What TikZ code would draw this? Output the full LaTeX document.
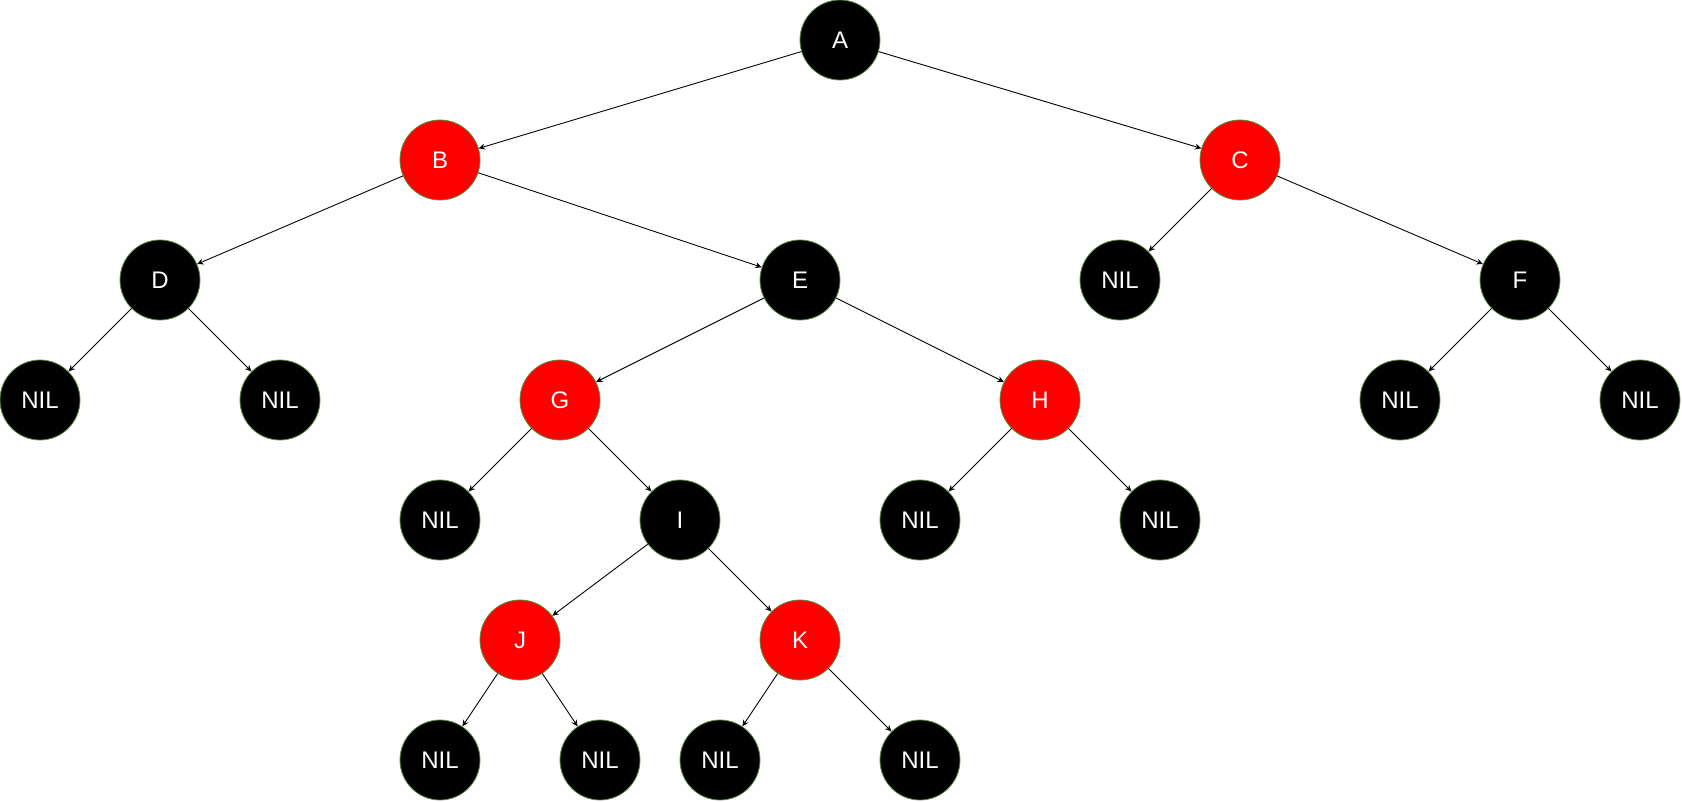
\documentclass[tikz,border=0pt]{standalone}
\usepackage{fontspec}
\setmainfont{Liberation Sans}
\usepackage{xcolor}
\usetikzlibrary{arrows.meta}
\definecolor{cRed}  {HTML}{FF0000}
\definecolor{cBlack}{HTML}{000000}
\definecolor{cRim}  {HTML}{5E8A3C}
\tikzset{
  >={Stealth[length=3.2pt,width=3pt]},
  rb/.style={circle,draw=cRim,line width=0.4pt,minimum size=40pt,inner sep=0pt,
             font=\fontsize{12}{14}\selectfont,text=white},
  bn/.style={rb,fill=cBlack},
  rn/.style={rb,fill=cRed},
  ed/.style={->,line width=0.45pt,black},
}
\begin{document}
\begin{tikzpicture}[x=20pt,y=-60pt]
    \useasboundingbox (0,-1/3) rectangle (42.05,6.35);
    % inner nodes
    \node[bn] (A) at (21,0) {A};
    \node[rn] (B) at (11,1) {B};
    \node[rn] (C) at (31,1) {C};
    \node[bn] (D) at (4,2) {D};
    \node[bn] (E) at (20,2) {E};
    \node[bn] (F) at (38,2) {F};
    \node[rn] (G) at (14,3) {G};
    \node[rn] (H) at (26,3) {H};
    \node[bn] (I) at (17,4) {I};
    \node[rn] (J) at (13,5) {J};
    \node[rn] (K) at (20,5) {K};
    % leaves
    \node[bn] (n1)  at (28,2) {NIL};
    \node[bn] (n2)  at (1,3)  {NIL};
    \node[bn] (n3)  at (7,3)  {NIL};
    \node[bn] (n4)  at (35,3) {NIL};
    \node[bn] (n5)  at (41,3) {NIL};
    \node[bn] (n6)  at (11,4) {NIL};
    \node[bn] (n7)  at (23,4) {NIL};
    \node[bn] (n8)  at (29,4) {NIL};
    \node[bn] (n9)  at (11,6) {NIL};
    \node[bn] (n10) at (15,6) {NIL};
    \node[bn] (n11) at (18,6) {NIL};
    \node[bn] (n12) at (23,6) {NIL};
    % edges
    \draw[ed] (A)--(B); \draw[ed] (A)--(C);
    \draw[ed] (B)--(D); \draw[ed] (B)--(E);
    \draw[ed] (C)--(n1); \draw[ed] (C)--(F);
    \draw[ed] (D)--(n2); \draw[ed] (D)--(n3);
    \draw[ed] (E)--(G); \draw[ed] (E)--(H);
    \draw[ed] (F)--(n4); \draw[ed] (F)--(n5);
    \draw[ed] (G)--(n6); \draw[ed] (G)--(I);
    \draw[ed] (H)--(n7); \draw[ed] (H)--(n8);
    \draw[ed] (I)--(J); \draw[ed] (I)--(K);
    \draw[ed] (J)--(n9); \draw[ed] (J)--(n10);
    \draw[ed] (K)--(n11); \draw[ed] (K)--(n12);
  \end{tikzpicture}
\end{document}
